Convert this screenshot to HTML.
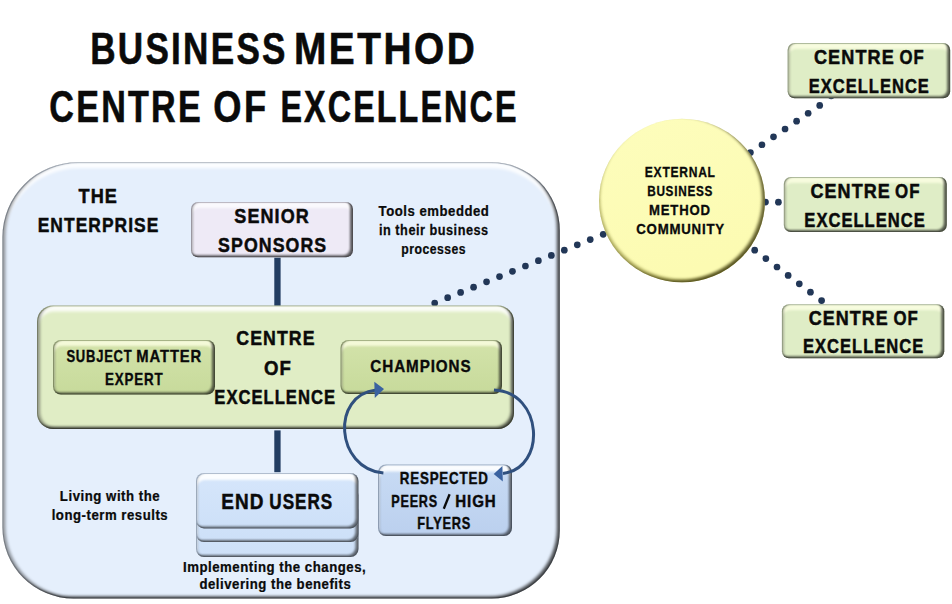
<!DOCTYPE html>
<html><head><meta charset="utf-8">
<style>
html,body{margin:0;padding:0;background:#fff;width:952px;height:604px;overflow:hidden;}
svg{display:block;}
text{font-family:"Liberation Sans",sans-serif;font-weight:bold;fill:#0a0a0a;stroke:#0a0a0a;stroke-width:0;}
</style></head>
<body>
<svg width="952" height="604" viewBox="0 0 952 604">
<defs>
  <filter id="bev" x="-5%" y="-5%" width="110%" height="110%" color-interpolation-filters="sRGB">
    <feMorphology in="SourceAlpha" operator="erode" radius="1" result="e1"/>
    <feGaussianBlur in="e1" stdDeviation="0.6" result="be"/>
    <feComposite in="SourceAlpha" in2="be" operator="out" result="rimA"/>
    <feFlood flood-color="#000" flood-opacity="0.16"/><feComposite in2="rimA" operator="in" result="rim"/>
    <feGaussianBlur in="e1" stdDeviation="1.5" result="b2"/>
    <feOffset in="b2" dx="0" dy="5" result="o2"/>
    <feComposite in="e1" in2="o2" operator="out" result="hiA"/>
    <feFlood flood-color="#ffffff" flood-opacity="0.85"/><feComposite in2="hiA" operator="in" result="hi"/>
    <feGaussianBlur in="SourceAlpha" stdDeviation="1.5" result="b3"/>
    <feOffset in="b3" dx="2.5" dy="-1.2" result="o4"/>
    <feComposite in="SourceAlpha" in2="o4" operator="out" result="lA"/>
    <feFlood flood-color="#000" flood-opacity="0.38"/><feComposite in2="lA" operator="in" result="lf"/>
    <feOffset in="b3" dx="-3" dy="-2" result="o3"/>
    <feComposite in="SourceAlpha" in2="o3" operator="out" result="dkA"/>
    <feFlood flood-color="#000" flood-opacity="0.68"/><feComposite in2="dkA" operator="in" result="dk"/>
    <feMerge><feMergeNode in="SourceGraphic"/><feMergeNode in="rim"/><feMergeNode in="hi"/><feMergeNode in="lf"/><feMergeNode in="dk"/></feMerge>
  </filter>
  <filter id="bevS" x="-5%" y="-5%" width="110%" height="110%" color-interpolation-filters="sRGB">
    <feMorphology in="SourceAlpha" operator="erode" radius="0.8" result="e1"/>
    <feGaussianBlur in="e1" stdDeviation="0.6" result="be"/>
    <feComposite in="SourceAlpha" in2="be" operator="out" result="rimA"/>
    <feFlood flood-color="#000" flood-opacity="0.12"/><feComposite in2="rimA" operator="in" result="rim"/>
    <feGaussianBlur in="e1" stdDeviation="1.2" result="b2"/>
    <feOffset in="b2" dx="0" dy="4.5" result="o2"/>
    <feComposite in="e1" in2="o2" operator="out" result="hiA"/>
    <feFlood flood-color="#ffffff" flood-opacity="0.72"/><feComposite in2="hiA" operator="in" result="hi"/>
    <feGaussianBlur in="SourceAlpha" stdDeviation="1.2" result="b3"/>
    <feOffset in="b3" dx="2" dy="0" result="o4"/>
    <feComposite in="SourceAlpha" in2="o4" operator="out" result="lA"/>
    <feFlood flood-color="#000" flood-opacity="0.28"/><feComposite in2="lA" operator="in" result="lf"/>
    <feOffset in="b3" dx="-2.6" dy="-1.6" result="o3"/>
    <feComposite in="SourceAlpha" in2="o3" operator="out" result="dkA"/>
    <feFlood flood-color="#000" flood-opacity="0.62"/><feComposite in2="dkA" operator="in" result="dk"/>
    <feMerge><feMergeNode in="SourceGraphic"/><feMergeNode in="rim"/><feMergeNode in="hi"/><feMergeNode in="lf"/><feMergeNode in="dk"/></feMerge>
  </filter>
  <filter id="bevSB" x="-5%" y="-5%" width="110%" height="110%" color-interpolation-filters="sRGB">
    <feMorphology in="SourceAlpha" operator="erode" radius="0.8" result="e1"/>
    <feGaussianBlur in="e1" stdDeviation="0.6" result="be"/>
    <feComposite in="SourceAlpha" in2="be" operator="out" result="rimA"/>
    <feFlood flood-color="#000" flood-opacity="0.12"/><feComposite in2="rimA" operator="in" result="rim"/>
    <feGaussianBlur in="e1" stdDeviation="1.2" result="b2"/>
    <feOffset in="b2" dx="0" dy="5.5" result="o2"/>
    <feComposite in="e1" in2="o2" operator="out" result="hiA"/>
    <feFlood flood-color="#ffffff" flood-opacity="0.9"/><feComposite in2="hiA" operator="in" result="hi"/>
    <feGaussianBlur in="SourceAlpha" stdDeviation="1.2" result="b3"/>
    <feOffset in="b3" dx="2" dy="0" result="o4"/>
    <feComposite in="SourceAlpha" in2="o4" operator="out" result="lA"/>
    <feFlood flood-color="#000" flood-opacity="0.16"/><feComposite in2="lA" operator="in" result="lf"/>
    <feOffset in="b3" dx="-2.6" dy="-1.6" result="o3"/>
    <feComposite in="SourceAlpha" in2="o3" operator="out" result="dkA"/>
    <feFlood flood-color="#000" flood-opacity="0.55"/><feComposite in2="dkA" operator="in" result="dk"/>
    <feMerge><feMergeNode in="SourceGraphic"/><feMergeNode in="rim"/><feMergeNode in="hi"/><feMergeNode in="lf"/><feMergeNode in="dk"/></feMerge>
  </filter>
  <filter id="bevSG" x="-5%" y="-5%" width="110%" height="110%" color-interpolation-filters="sRGB">
    <feMorphology in="SourceAlpha" operator="erode" radius="0.8" result="e1"/>
    <feGaussianBlur in="e1" stdDeviation="0.6" result="be"/>
    <feComposite in="SourceAlpha" in2="be" operator="out" result="rimA"/>
    <feFlood flood-color="#000" flood-opacity="0.12"/><feComposite in2="rimA" operator="in" result="rim"/>
    <feGaussianBlur in="e1" stdDeviation="1.2" result="b2"/>
    <feOffset in="b2" dx="0" dy="4.5" result="o2"/>
    <feComposite in="e1" in2="o2" operator="out" result="hiA"/>
    <feFlood flood-color="#fcffe4" flood-opacity="0.8"/><feComposite in2="hiA" operator="in" result="hi"/>
    <feGaussianBlur in="SourceAlpha" stdDeviation="1.2" result="b3"/>
    <feOffset in="b3" dx="2" dy="0" result="o4"/>
    <feComposite in="SourceAlpha" in2="o4" operator="out" result="lA"/>
    <feFlood flood-color="#000" flood-opacity="0.28"/><feComposite in2="lA" operator="in" result="lf"/>
    <feOffset in="b3" dx="-2.6" dy="-1.6" result="o3"/>
    <feComposite in="SourceAlpha" in2="o3" operator="out" result="dkA"/>
    <feFlood flood-color="#000" flood-opacity="0.62"/><feComposite in2="dkA" operator="in" result="dk"/>
    <feMerge><feMergeNode in="SourceGraphic"/><feMergeNode in="rim"/><feMergeNode in="hi"/><feMergeNode in="lf"/><feMergeNode in="dk"/></feMerge>
  </filter>
  <filter id="bevC" x="-5%" y="-5%" width="110%" height="110%" color-interpolation-filters="sRGB">
    <feGaussianBlur in="SourceAlpha" stdDeviation="1.6" result="b"/>
    <feOffset in="b" dx="-3.5" dy="-2" result="o1"/>
    <feComposite in="SourceAlpha" in2="o1" operator="out" result="dA"/>
    <feFlood flood-color="#2e2a00" flood-opacity="0.7"/><feComposite in2="dA" operator="in" result="d"/>
    <feOffset in="b" dx="0.5" dy="-3" result="o2"/>
    <feComposite in="SourceAlpha" in2="o2" operator="out" result="d2A"/>
    <feFlood flood-color="#5c5600" flood-opacity="0.45"/><feComposite in2="d2A" operator="in" result="d2"/>
    <feMerge><feMergeNode in="SourceGraphic"/><feMergeNode in="d2"/><feMergeNode in="d"/></feMerge>
  </filter>
  <linearGradient id="gCirc" x1="0" y1="0" x2="0.3" y2="1">
    <stop offset="0" stop-color="#fdfdbc"/>
    <stop offset="1" stop-color="#fcfbb2"/>
  </linearGradient>
  <linearGradient id="gSme" x1="0" y1="0" x2="0" y2="1">
    <stop offset="0" stop-color="#d3e3aa"/>
    <stop offset="1" stop-color="#c7da9b"/>
  </linearGradient>
  <linearGradient id="gResp" x1="0" y1="0" x2="0" y2="1">
    <stop offset="0" stop-color="#c8dbf4"/>
    <stop offset="1" stop-color="#bbd0ee"/>
  </linearGradient>
  <linearGradient id="gEnd" x1="0" y1="0" x2="0" y2="1">
    <stop offset="0" stop-color="#d6e6fb"/>
    <stop offset="1" stop-color="#cde0f8"/>
  </linearGradient>
</defs>
<rect width="952" height="604" fill="#fff"/>

<!-- enterprise -->
<path d="M77.4 162.2 H491.79999999999995 A68 68 0 0 1 559.8 230.2 V530.5 A68 68 0 0 1 491.79999999999995 598.5 H73.4 A71 71 0 0 1 2.4 527.5 V237.2 A75 75 0 0 1 77.4 162.2 Z" fill="#e5effc" filter="url(#bev)"/>

<!-- left dotted line -->
<g fill="#223757"><circle cx="434.70" cy="303.00" r="3.35"/><circle cx="447.66" cy="297.72" r="3.35"/><circle cx="460.62" cy="292.43" r="3.35"/><circle cx="473.58" cy="287.15" r="3.35"/><circle cx="486.55" cy="281.86" r="3.35"/><circle cx="499.51" cy="276.58" r="3.35"/><circle cx="512.47" cy="271.29" r="3.35"/><circle cx="525.43" cy="266.01" r="3.35"/><circle cx="538.39" cy="260.72" r="3.35"/><circle cx="551.35" cy="255.44" r="3.35"/><circle cx="564.32" cy="250.15" r="3.35"/><circle cx="577.28" cy="244.87" r="3.35"/><circle cx="590.24" cy="239.58" r="3.35"/><circle cx="603.20" cy="234.30" r="3.35"/></g>

<!-- senior sponsors -->
<rect x="191" y="202" width="162" height="55.2" rx="7" fill="#eeeaf6" filter="url(#bevS)"/>
<rect x="274.3" y="257.8" width="6.3" height="48" fill="#223d62"/>
<rect x="274.3" y="430.4" width="6.3" height="41.8" fill="#223d62"/>

<!-- green -->
<rect x="37" y="305.5" width="477" height="123.5" rx="16" fill="#e0edc5" filter="url(#bev)"/>
<rect x="53" y="340" width="162" height="54.5" rx="8" fill="url(#gSme)" filter="url(#bevSG)"/>
<rect x="340.5" y="340" width="161.5" height="54" rx="8" fill="url(#gSme)" filter="url(#bevSG)"/>

<!-- end users stacked -->
<rect x="196" y="502.5" width="162.5" height="54.6" rx="8" fill="url(#gEnd)" filter="url(#bevSB)"/>
<rect x="196" y="487.2" width="162.5" height="54.8" rx="8" fill="url(#gEnd)" filter="url(#bevSB)"/>
<rect x="196" y="473" width="162.5" height="55.4" rx="8" fill="url(#gEnd)" filter="url(#bevSB)"/>

<!-- respected -->
<rect x="378" y="464.5" width="134" height="71.5" rx="8" fill="url(#gResp)" filter="url(#bevSB)"/>

<!-- arrows -->
<g fill="none" stroke="#30507e" stroke-width="3">
  <path d="M383.4 473.1 C335 468 331 395 376 390"/>
  <path d="M494 390 C543 392 547 468 503 473.5"/>
</g>
<g fill="#3a62a0">
  <path d="M374.3 381.8 L384 389 L374.8 398 Z"/>
  <path d="M493.7 473.9 L502.4 466.1 L502.8 481.4 Z"/>
</g>

<!-- right dotted lines -->
<g fill="#223757"><circle cx="750.40" cy="152.60" r="3.35"/><circle cx="761.95" cy="144.73" r="3.35"/><circle cx="773.50" cy="136.87" r="3.35"/><circle cx="785.05" cy="129.00" r="3.35"/><circle cx="796.60" cy="121.13" r="3.35"/><circle cx="808.15" cy="113.27" r="3.35"/><circle cx="819.70" cy="105.40" r="3.35"/><circle cx="831.2" cy="96.0" r="3.2"/><circle cx="765.50" cy="202.10" r="3.35"/><circle cx="778.40" cy="202.20" r="3.35"/><circle cx="754.70" cy="250.20" r="3.35"/><circle cx="765.85" cy="258.60" r="3.35"/><circle cx="777.00" cy="267.00" r="3.35"/><circle cx="788.15" cy="275.40" r="3.35"/><circle cx="799.30" cy="283.80" r="3.35"/><circle cx="810.45" cy="292.20" r="3.35"/><circle cx="821.60" cy="300.60" r="3.35"/></g>

<!-- circle -->
<ellipse cx="682" cy="200.5" rx="83" ry="81.8" fill="url(#gCirc)" filter="url(#bevC)"/>

<!-- right boxes -->
<rect x="787.6" y="43" width="162.6" height="55.3" rx="7" fill="#dfedc6" filter="url(#bevSG)"/>
<rect x="783.8" y="177" width="163" height="55" rx="7" fill="#dfedc6" filter="url(#bevSG)"/>
<rect x="781.9" y="304.2" width="162.4" height="54" rx="7" fill="#dfedc6" filter="url(#bevSG)"/>

<g>
<text transform="translate(90.21 64.00) scale(0.8028 1)" font-size="43.70" style="stroke-width:0.60px;letter-spacing:2.84px">BUSINESS</text>
<text transform="translate(293.97 64.00) scale(0.8881 1)" font-size="43.70" style="stroke-width:0.60px;letter-spacing:2.84px">METHOD</text>
<text transform="translate(49.33 122.00) scale(0.7808 1)" font-size="43.70" style="stroke-width:0.60px;letter-spacing:2.84px">CENTRE</text>
<text transform="translate(213.37 122.00) scale(0.8299 1)" font-size="43.70" style="stroke-width:0.60px;letter-spacing:2.84px">OF</text>
<text transform="translate(280.48 122.00) scale(0.7392 1)" font-size="43.70" style="stroke-width:0.60px;letter-spacing:2.84px">EXCELLENCE</text>
<text transform="translate(78.50 203.00) scale(0.8643 1)" font-size="21.00" style="stroke-width:0.50px;letter-spacing:1.26px">THE</text>
<text transform="translate(37.71 232.00) scale(0.8297 1)" font-size="21.00" style="stroke-width:0.50px;letter-spacing:1.26px">ENTERPRISE</text>
<text transform="translate(234.32 223.00) scale(0.8584 1)" font-size="21.00" style="stroke-width:0.50px;letter-spacing:1.26px">SENIOR</text>
<text transform="translate(218.12 252.00) scale(0.8451 1)" font-size="21.00" style="stroke-width:0.50px;letter-spacing:1.26px">SPONSORS</text>
<text transform="translate(378.60 216.00) scale(0.9529 1)" font-size="13.80" style="stroke-width:0.25px;letter-spacing:0.55px">Tools embedded</text>
<text transform="translate(379.01 235.00) scale(0.9217 1)" font-size="13.80" style="stroke-width:0.25px;letter-spacing:0.55px">in their business</text>
<text transform="translate(401.34 254.00) scale(0.8853 1)" font-size="13.80" style="stroke-width:0.25px;letter-spacing:0.55px">processes</text>
<text transform="translate(236.25 345.00) scale(0.8455 1)" font-size="21.00" style="stroke-width:0.50px;letter-spacing:1.26px">CENTRE</text>
<text transform="translate(264.02 375.00) scale(0.8872 1)" font-size="21.00" style="stroke-width:0.50px;letter-spacing:1.26px">OF</text>
<text transform="translate(214.36 404.00) scale(0.7912 1)" font-size="21.00" style="stroke-width:0.50px;letter-spacing:1.26px">EXCELLENCE</text>
<text transform="translate(66.40 362.00) scale(0.8121 1)" font-size="16.00" style="stroke-width:0.35px;letter-spacing:0.96px">SUBJECT</text>
<text transform="translate(136.27 362.00) scale(0.9251 1)" font-size="16.00" style="stroke-width:0.35px;letter-spacing:0.96px">MATTER</text>
<text transform="translate(105.06 385.00) scale(0.8364 1)" font-size="16.00" style="stroke-width:0.35px;letter-spacing:0.96px">EXPERT</text>
<text transform="translate(370.32 372.00) scale(0.9518 1)" font-size="16.00" style="stroke-width:0.35px;letter-spacing:0.96px">CHAMPIONS</text>
<text transform="translate(221.21 509.00) scale(0.8745 1)" font-size="21.70" style="stroke-width:0.50px;letter-spacing:1.30px">END</text>
<text transform="translate(269.30 509.00) scale(0.7884 1)" font-size="21.70" style="stroke-width:0.50px;letter-spacing:1.30px">USERS</text>
<text transform="translate(399.87 484.00) scale(0.8139 1)" font-size="16.40" style="stroke-width:0.40px;letter-spacing:0.98px">RESPECTED</text>
<text transform="translate(391.31 507.00) scale(0.7697 1)" font-size="16.40" style="stroke-width:0.40px;letter-spacing:0.98px">PEERS</text>
<text transform="translate(455.25 507.00) scale(0.9224 1)" font-size="16.40" style="stroke-width:0.40px;letter-spacing:0.98px">HIGH</text>
<text transform="translate(417.20 529.00) scale(0.7802 1)" font-size="16.40" style="stroke-width:0.40px;letter-spacing:0.98px">FLYERS</text>
<text transform="translate(59.87 501.00) scale(0.9572 1)" font-size="13.80" style="stroke-width:0.25px;letter-spacing:0.55px">Living with the</text>
<text transform="translate(51.68 520.00) scale(0.9548 1)" font-size="13.80" style="stroke-width:0.25px;letter-spacing:0.55px">long-term results</text>
<text transform="translate(182.97 572.00) scale(0.9569 1)" font-size="13.80" style="stroke-width:0.25px;letter-spacing:0.55px">Implementing the changes,</text>
<text transform="translate(199.39 589.00) scale(0.9555 1)" font-size="13.80" style="stroke-width:0.25px;letter-spacing:0.55px">delivering the benefits</text>
<text transform="translate(644.85 177.00) scale(0.8752 1)" font-size="13.80" style="stroke-width:0.30px;letter-spacing:0.83px">EXTERNAL</text>
<text transform="translate(647.16 196.00) scale(0.8546 1)" font-size="13.80" style="stroke-width:0.30px;letter-spacing:0.83px">BUSINESS</text>
<text transform="translate(649.08 215.00) scale(0.9522 1)" font-size="13.80" style="stroke-width:0.30px;letter-spacing:0.83px">METHOD</text>
<text transform="translate(636.19 234.00) scale(0.9590 1)" font-size="13.80" style="stroke-width:0.30px;letter-spacing:0.83px">COMMUNITY</text>
<text transform="translate(813.93 64.00) scale(0.8630 1)" font-size="21.00" style="stroke-width:0.50px;letter-spacing:1.26px">CENTRE</text>
<text transform="translate(899.48 64.00) scale(0.7978 1)" font-size="21.00" style="stroke-width:0.50px;letter-spacing:1.26px">OF</text>
<text transform="translate(808.77 93.00) scale(0.7879 1)" font-size="21.00" style="stroke-width:0.50px;letter-spacing:1.26px">EXCELLENCE</text>
<text transform="translate(810.44 198.00) scale(0.8575 1)" font-size="21.00" style="stroke-width:0.50px;letter-spacing:1.26px">CENTRE</text>
<text transform="translate(895.07 198.00) scale(0.8047 1)" font-size="21.00" style="stroke-width:0.50px;letter-spacing:1.26px">OF</text>
<text transform="translate(804.36 227.00) scale(0.7905 1)" font-size="21.00" style="stroke-width:0.50px;letter-spacing:1.26px">EXCELLENCE</text>
<text transform="translate(808.64 325.00) scale(0.8553 1)" font-size="21.00" style="stroke-width:0.50px;letter-spacing:1.26px">CENTRE</text>
<text transform="translate(893.47 325.00) scale(0.8013 1)" font-size="21.00" style="stroke-width:0.50px;letter-spacing:1.26px">OF</text>
<text transform="translate(802.96 353.00) scale(0.7892 1)" font-size="21.00" style="stroke-width:0.50px;letter-spacing:1.26px">EXCELLENCE</text>
<line x1="449.6" y1="494.3" x2="443.8" y2="508.8" stroke="#0a0a0a" stroke-width="2.3"/>
</g>
</svg>
</body></html>
